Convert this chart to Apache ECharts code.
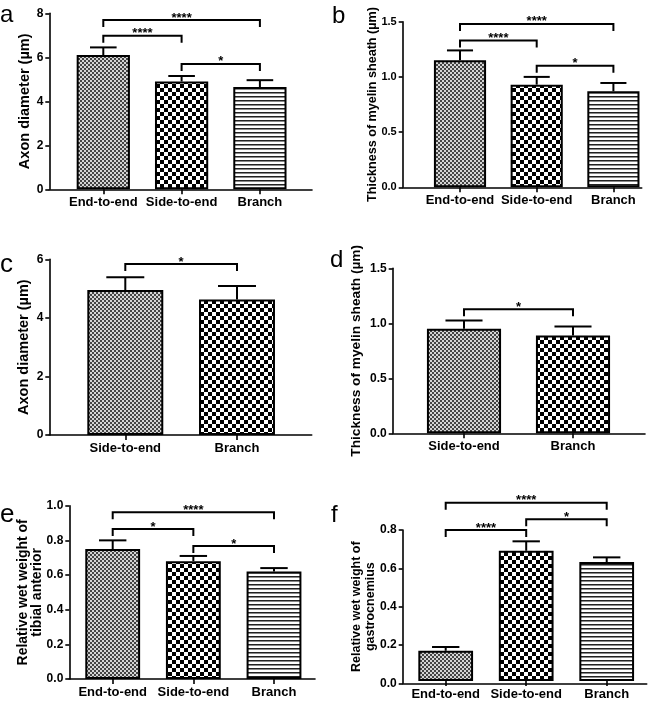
<!DOCTYPE html>
<html><head><meta charset="utf-8">
<script src="https://cdn.jsdelivr.net/npm/echarts@6/dist/echarts.min.js"></script>
<style>html,body{margin:0;padding:0;background:#fff}#c{width:666px;height:701px}</style>
</head><body><div id="c"></div>
<script>
// ---- data ----
const cats3 = ['End-to-end', 'Side-to-end', 'Branch'];
const cats2 = ['Side-to-end', 'Branch'];

const meanA = [6.1, 4.9, 4.65];
const sdA = [0.35, 0.25, 0.31];
const sigA = [[0, 2, 7.69, '****'], [0, 1, 6.98, '****'], [1, 2, 5.7, '*']];
const ticksA = ['0', '2', '4', '6', '8'];
const titleA = 'Axon diameter (µm)';

const meanB = [1.15, 0.93, 0.87];
const sdB = [0.09, 0.07, 0.075];
const sigB = [[0, 2, 1.48, '****'], [0, 1, 1.33, '****'], [1, 2, 1.10, '*']];
const ticksB = ['0.0', '0.5', '1.0', '1.5'];
const titleB = 'Thickness of myelin sheath (µm)';

const meanC = [4.95, 4.63];
const sdC = [0.44, 0.46];
const sigC = [[0, 1, 5.84, '*']];
const ticksC = ['0', '2', '4', '6'];
const titleC = 'Axon diameter (µm)';

const meanD = [0.95, 0.89];
const sdD = [0.075, 0.08];
const sigD = [[0, 1, 1.127, '*']];
const ticksD = ['0.0', '0.5', '1.0', '1.5'];
const titleD = 'Thickness of myelin sheath (µm)';

const meanE = [0.75, 0.68, 0.62];
const sdE = [0.05, 0.03, 0.02];
const sigE = [[0, 2, 0.962, '****'], [0, 1, 0.866, '*'], [1, 2, 0.767, '*']];
const ticksE = ['0.0', '0.2', '0.4', '0.6', '0.8', '1.0'];
const titleE = 'Relative wet weight of\ntibial anterior';

const meanF = [0.16, 0.69, 0.63];
const sdF = [0.02, 0.05, 0.025];
const sigF = [[0, 2, 0.944, '****'], [0, 1, 0.80, '****'], [1, 2, 0.857, '*']];
const ticksF = ['0.0', '0.2', '0.4', '0.6', '0.8'];
const titleF = 'Relative wet weight of\ngastrocnemius';

// ---- patterns ----
function mk(w, h, draw) { const c = document.createElement('canvas'); c.width = w; c.height = h; draw(c.getContext('2d')); return c; }
const PAT = {
  fine: mk(4, 4, g => { g.fillStyle = '#d4d4d4'; g.fillRect(0, 0, 4, 4); g.fillStyle = '#444'; g.fillRect(0, 0, 2, 2); g.fillRect(2, 2, 2, 2); }),
  coarse: mk(8, 8, g => { g.fillStyle = '#fff'; g.fillRect(0, 0, 8, 8); g.fillStyle = '#000'; g.fillRect(0, 0, 4, 4); g.fillRect(4, 4, 4, 4); }),
  stripe: mk(4, 4, g => { g.fillStyle = '#fff'; g.fillRect(0, 0, 4, 4); g.fillStyle = '#222'; g.fillRect(0, 0, 4, 1); g.fillStyle = '#8a8a8a'; g.fillRect(0, 1, 4, 1); })
};

const FF = '"Liberation Sans", Arial, sans-serif';

// ---- layout ----
const panels = [
  { cats: cats3, mean: meanA, sd: sdA, sig: sigA, ticks: ticksA, title: titleA, pats: ['fine', 'coarse', 'stripe'],
    ax: 49.3, xe: 312, top: 13.3, zero: 189.3, c1: 103.3, s: 78.3, gap: 16, tfs: 14.5, lh: 16, yfs: 12 },
  { cats: cats3, mean: meanB, sd: sdB, sig: sigB, ticks: ticksB, title: titleB, pats: ['fine', 'coarse', 'stripe'],
    ax: 402.7, xe: 641.7, top: 21.7, zero: 187.3, c1: 460, s: 76.7, gap: 23, tfs: 12.6, lh: 14, yfs: 11 },
  { cats: cats2, mean: meanC, sd: sdC, sig: sigC, ticks: ticksC, title: titleC, pats: ['fine', 'coarse'],
    ax: 49.3, xe: 311.7, top: 259.3, zero: 435, c1: 125.3, s: 111.7, gap: 17, tfs: 14.5, lh: 16, yfs: 12 },
  { cats: cats2, mean: meanD, sd: sdD, sig: sigD, ticks: ticksD, title: titleD, pats: ['fine', 'coarse'],
    ax: 392.7, xe: 645, top: 268.3, zero: 433.3, c1: 464, s: 109, gap: 29, tfs: 13.7, lh: 15, yfs: 12 },
  { cats: cats3, mean: meanE, sd: sdE, sig: sigE, ticks: ticksE, title: titleE, pats: ['fine', 'coarse', 'stripe'],
    ax: 69.3, xe: 315, top: 505.7, zero: 679, c1: 112.7, s: 80.65, gap: 25, tfs: 14, lh: 14, yfs: 12 },
  { cats: cats3, mean: meanF, sd: sdF, sig: sigF, ticks: ticksF, title: titleF, pats: ['fine', 'coarse', 'stripe'],
    ax: 402.7, xe: 646.7, top: 530, zero: 683.3, c1: 445.7, s: 80.5, gap: 25, tfs: 12.5, lh: 14, yfs: 12 }
];
const letters = [
  { t: 'a', x: 0, y: 27, fs: 24 }, { t: 'b', x: 332, y: 28, fs: 24 },
  { t: 'c', x: 0, y: 278, fs: 26 }, { t: 'd', x: 330, y: 272, fs: 24 },
  { t: 'e', x: 0, y: 528, fs: 26 }, { t: 'f', x: 331, y: 527, fs: 24 }
];

const grid = [], xAxis = [], yAxis = [], series = [];
const black = '#000';
panels.forEach((p, i) => {
  const tv = p.ticks.map(Number);
  const ymin = tv[0], ymax = tv[tv.length - 1], step = tv[1] - tv[0];
  const dec = p.ticks[0].indexOf('.') >= 0 ? 1 : 0;
  const n = p.cats.length;
  grid.push({ left: p.ax, top: p.top, width: p.xe - p.ax, height: p.zero - p.top, containLabel: false });
  grid.push({ left: p.c1 - p.s / 2, top: p.top, width: n * p.s, height: p.zero - p.top, containLabel: false });
  const gA = 2 * i, gB = 2 * i + 1;
  xAxis.push({ gridIndex: gA, type: 'value', min: 0, max: 1, axisLine: { show: true, lineStyle: { color: black, width: 1.6 } },
    axisTick: { show: false }, axisLabel: { show: false }, splitLine: { show: false } });
  xAxis.push({ gridIndex: gB, type: 'category', data: p.cats, axisLine: { show: false },
    axisTick: { show: true, alignWithLabel: true, length: 5, lineStyle: { color: black, width: 1.6 } },
    axisLabel: { color: black, fontFamily: FF, fontWeight: 'bold', fontSize: 13, margin: 7, interval: 0 },
    splitLine: { show: false } });
  yAxis.push({ gridIndex: gA, type: 'value', min: ymin, max: ymax, interval: step,
    axisLine: { show: true, lineStyle: { color: black, width: 1.6 } },
    axisTick: { show: true, length: 4, lineStyle: { color: black, width: 1.6 } },
    axisLabel: { color: black, fontFamily: FF, fontWeight: 'bold', fontSize: p.yfs, margin: 6, formatter: v => v.toFixed(dec) },
    splitLine: { show: false },
    name: p.title, nameLocation: 'middle', nameGap: p.gap, nameMoveOverlap: false,
    nameTextStyle: { color: black, fontFamily: FF, fontWeight: 'bold', fontSize: p.tfs, lineHeight: p.lh, align: 'center' } });
  yAxis.push({ gridIndex: gB, type: 'value', min: ymin, max: ymax, show: false });

  series.push({
    type: 'bar', xAxisIndex: gB, yAxisIndex: gB, barWidth: '68%',
    itemStyle: { borderColor: black, borderWidth: 2 },
    data: p.mean.map((v, j) => ({ value: v, itemStyle: { color: { image: PAT[p.pats[j]], repeat: 'repeat' } } })),
    z: 2
  });
  series.push({
    type: 'custom', xAxisIndex: gB, yAxisIndex: gB, z: 3, clip: false,
    data: p.mean.map((v, j) => [j, v, v + p.sd[j]]),
    renderItem: (params, api) => {
      const a = api.coord([api.value(0), api.value(1)]);
      const b = api.coord([api.value(0), api.value(2)]);
      const h = api.size([1, 0])[0] * 0.17;
      const st = { stroke: black, lineWidth: 2 };
      return { type: 'group', children: [
        { type: 'line', shape: { x1: a[0], y1: a[1], x2: b[0], y2: b[1] }, style: st },
        { type: 'line', shape: { x1: b[0] - h, y1: b[1], x2: b[0] + h, y2: b[1] }, style: st }
      ] };
    }
  });
  series.push({
    type: 'custom', xAxisIndex: gB, yAxisIndex: gB, z: 4, clip: false,
    data: p.sig.map(b => [b[0], b[2]]),
    renderItem: (params, api) => {
      const b = p.sig[params.dataIndex];
      const l = api.coord([b[0], b[2]]);
      const r = api.coord([b[1], b[2]]);
      const d = 7;
      return { type: 'group', children: [
        { type: 'polyline', shape: { points: [[l[0], l[1] + d], [l[0], l[1]], [r[0], r[1]], [r[0], r[1] + d]] },
          style: { stroke: black, lineWidth: 2, fill: null } },
        { type: 'text', x: (l[0] + r[0]) / 2, y: l[1] - 2,
          style: { text: b[3], font: 'bold 13px ' + FF, fill: black, align: 'center', verticalAlign: 'middle',
                   textAlign: 'center', textVerticalAlign: 'middle' } }
      ] };
    }
  });
});

const graphic = letters.map(L => ({
  type: 'text', x: L.x, y: L.y,
  style: { text: L.t, font: L.fs + 'px ' + FF, fill: black, verticalAlign: 'bottom', textVerticalAlign: 'bottom' }
}));

const chart = echarts.init(document.getElementById('c'), null, { renderer: 'canvas' });
chart.setOption({ animation: false, backgroundColor: '#fff', grid, xAxis, yAxis, series, graphic });
</script>
</body></html>
